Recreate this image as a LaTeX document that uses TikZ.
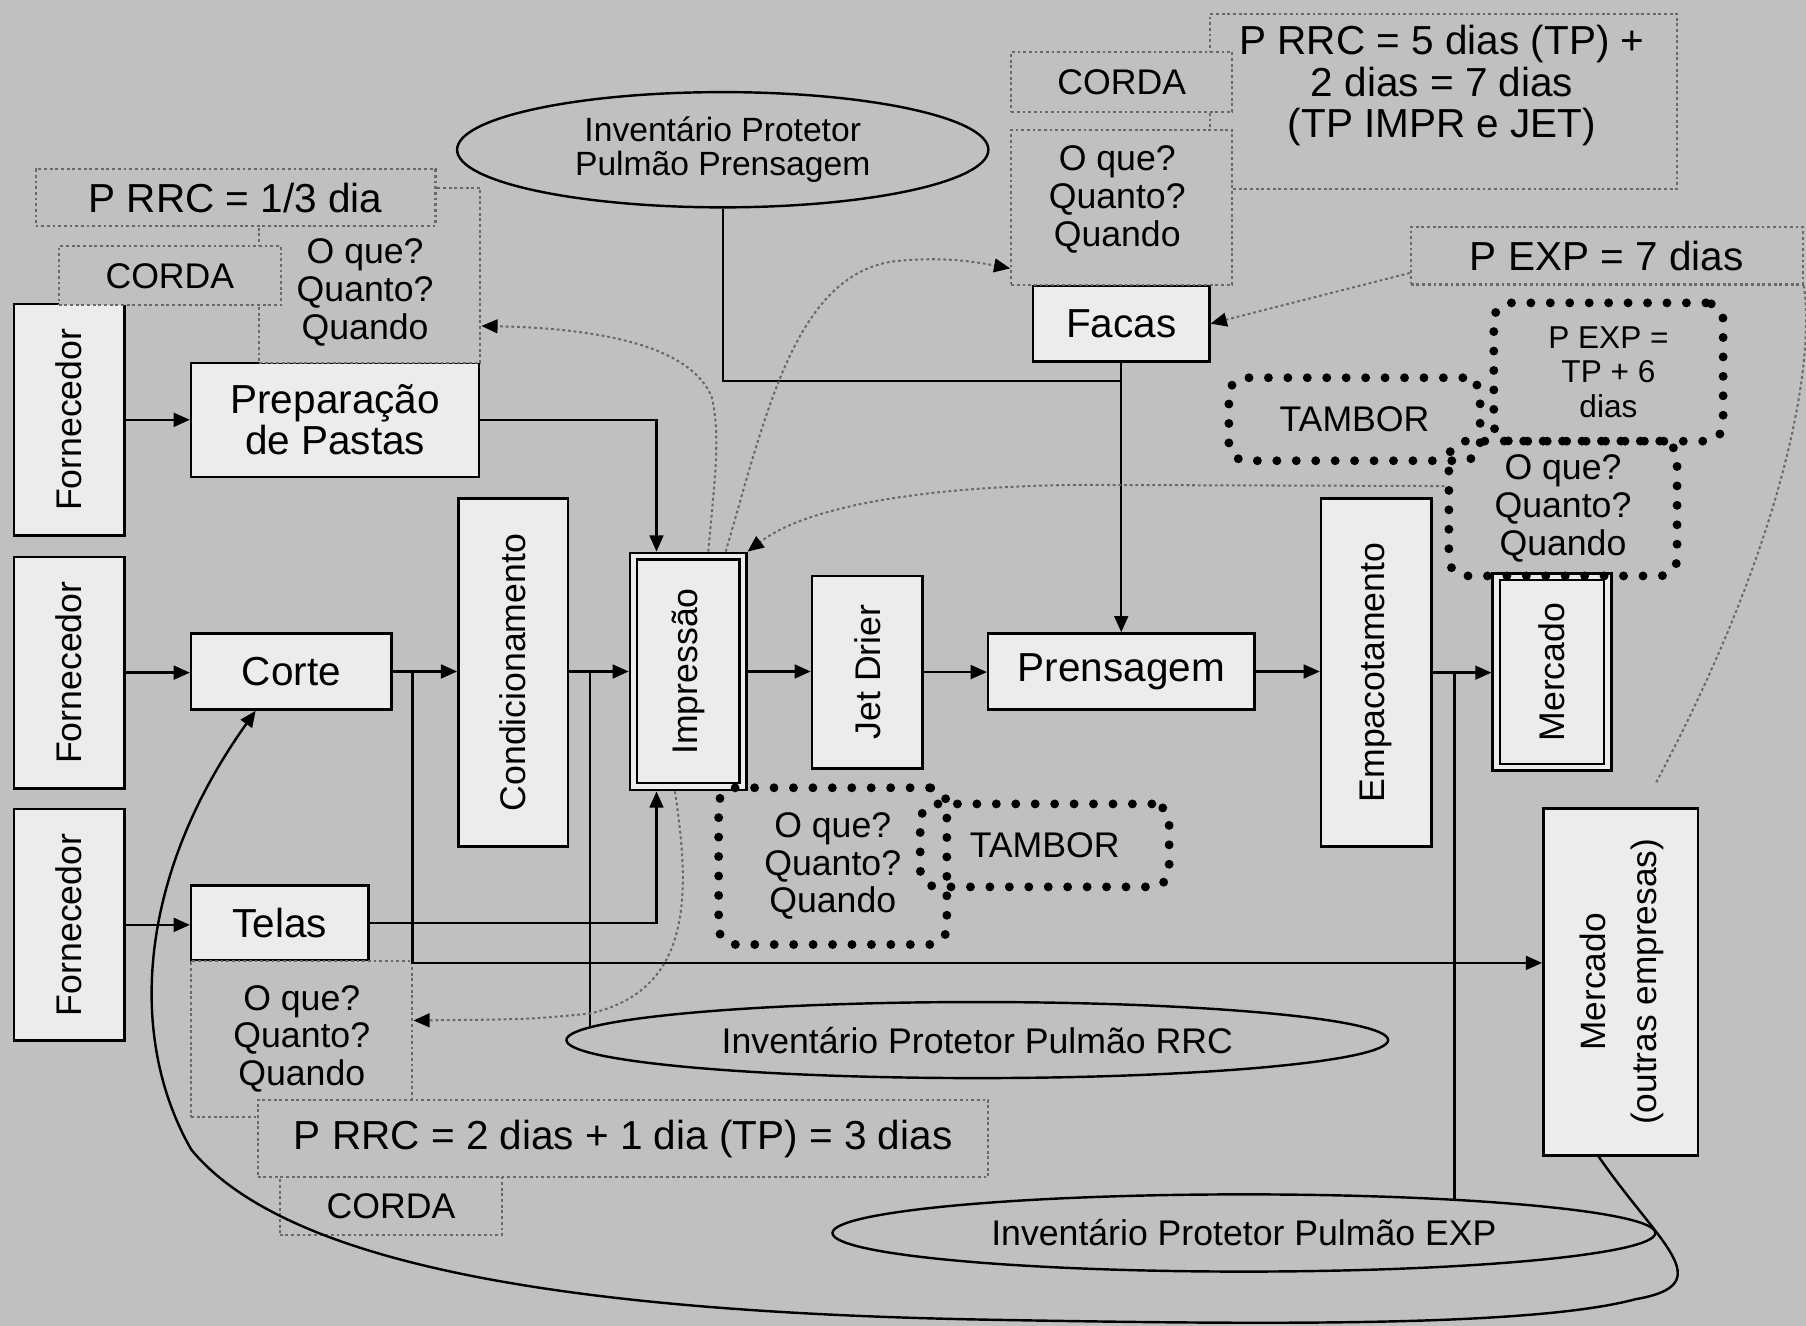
\documentclass[tikz,border=0pt]{standalone}
\usepackage{fontspec}
\setmainfont{Liberation Sans}
\usetikzlibrary{shapes.geometric,arrows.meta}
\definecolor{bggray}{RGB}{192,192,192}
\definecolor{boxfill}{RGB}{236,236,236}
\definecolor{dotgray}{RGB}{105,105,105}
\newcommand\fntbox{\fontsize{10}{10.2}\selectfont}
\newcommand\fntvert{\fontsize{8.8}{10}\selectfont}
\newcommand\fntnote{\fontsize{8.8}{9.3}\selectfont}
\newcommand\fntbuf{\fontsize{8.3}{8.3}\selectfont}
\newcommand\fntpexp{\fontsize{7.8}{8.5}\selectfont}
\newcommand\fntmout{\fontsize{8.7}{12.8}\selectfont}
\begin{document}
\begin{tikzpicture}[x=0.01cm, y=-0.01cm,
    >={Triangle[length=4pt,width=3.4pt]},
    box/.style={draw, line width=0.6pt, fill=boxfill, inner sep=0pt, align=center, font=\fntbox},
    vbox/.style={box, font=\fntvert},
    note/.style={draw=dotgray, line width=0.5pt, dash pattern=on 0.7pt off 0.7pt, fill=bggray, inner sep=0pt, align=center, font=\fntnote},
    drum/.style={draw, line width=2.2pt, dash pattern=on 0pt off 4.8pt, line cap=round, rounded corners=0.15cm, inner sep=0pt, align=center, font=\fntnote},
    buffer/.style={ellipse, draw, line width=0.6pt, inner sep=0pt, align=center, font=\fntnote},
    link/.style={line width=0.6pt},
    hint/.style={draw=dotgray, line width=0.5pt, dash pattern=on 0.7pt off 0.7pt, -{Triangle[length=4pt,width=3.4pt,color=black]}}]
    \fill[bggray] (0,0) rectangle (1568,1151);
    \useasboundingbox (0,0) rectangle (1568,1151);
    % processos
    \foreach \n/\y in {1/364.5,2/584,3/803} {
        \node[vbox, minimum width=0.96cm, minimum height=2.01cm] (forn\n) at (60,\y) {\rotatebox{90}{Fornecedor}};
    }
    \node[box, minimum width=2.5cm, minimum height=0.99cm] (prep) at (291,364.5) {Preparação\\de Pastas};
    \node[box, minimum width=1.74cm, minimum height=0.66cm] (corte) at (253,583) {Corte};
    \node[box, minimum width=1.54cm, minimum height=0.65cm] (telas) at (243,801.5) {Telas};
    \node[vbox, minimum width=0.95cm, minimum height=3.02cm] (cond) at (445.5,584) {\rotatebox{90}{Condicionamento}};
    \node[box, minimum width=1.01cm, minimum height=2.06cm] (impr) at (597.5,583) {};
    \node[vbox, minimum width=0.89cm, minimum height=1.94cm] (imprin) at (impr) {\rotatebox{90}{Impressão}};
    \node[vbox, minimum width=0.96cm, minimum height=1.67cm] (jet) at (753,583.5) {\rotatebox{90}{Jet Drier}};
    \node[box, minimum width=2.31cm, minimum height=0.66cm] (prens) at (973.5,583) {Prensagem};
    \node[box, minimum width=1.53cm, minimum height=0.66cm] (facas) at (973.5,281) {Facas};
    \node[vbox, minimum width=0.96cm, minimum height=3.02cm] (emp) at (1195,584) {\rotatebox{90}{Empacotamento}};
    \node[box, minimum width=1.03cm, minimum height=1.71cm] (merc) at (1347.5,583.5) {};
    \node[vbox, minimum width=0.9cm, minimum height=1.6cm] (mercin) at (merc) {\rotatebox{90}{Mercado}};
    \node[box, minimum width=1.34cm, minimum height=3.01cm, font=\fntmout] (mout) at (1407,852.5) {\rotatebox{90}{\begin{tabular}{@{}c@{}}Mercado\\(outras empresas)\end{tabular}}};
    % pulmoes
    \node[buffer, minimum width=4.61cm, minimum height=1cm, font=\fntbuf] (ipp) at (627.5,130) {Inventário Protetor\\Pulmão Prensagem};
    \node[buffer, minimum width=7.13cm, minimum height=0.66cm] (irrc) at (848.5,903) {Inventário Protetor Pulmão RRC};
    \node[buffer, minimum width=7.14cm, minimum height=0.67cm] (iexp) at (1080,1070.5) {Inventário Protetor Pulmão EXP};
    % notas
    \node[note, minimum width=1.92cm, minimum height=1.52cm] (q1) at (321,239) {};
    \node[font=\fntnote, align=center] (q1t) at (317,254) {O que?\\Quanto?\\Quando};
    \node[note, minimum width=3.47cm, minimum height=0.49cm, font=\fntbox] (n1) at (204.5,171.5) {P RRC = 1/3 dia};
    \node[note, minimum width=1.93cm, minimum height=0.51cm] (c1) at (147.5,239.5) {CORDA};
    \node[note, minimum width=4.05cm, minimum height=1.52cm] (n2) at (1253.5,88) {};
    \node[font=\fntbox, align=center] (n2t) at (1252,74.5) {P RRC = 5 dias (TP) +\\2 dias = 7 dias\\(TP IMPR e JET)};
    \node[note, minimum width=1.92cm, minimum height=1.34cm] (q2) at (974,180) {};
    \node[font=\fntnote, align=center] (q2t) at (970,173) {O que?\\Quanto?\\Quando};
    \node[note, minimum width=1.92cm, minimum height=0.52cm] (c2) at (974,71) {CORDA};
    \node[note, minimum width=3.4cm, minimum height=0.5cm, font=\fntbox] (pexp) at (1395,222) {P EXP = 7 dias};
    \node[note, minimum width=1.92cm, minimum height=1.36cm] (q5) at (262,902) {O que?\\Quanto?\\Quando};
    \node[note, minimum width=6.34cm, minimum height=0.67cm, font=\fntbox] (n3) at (541,988.5) {P RRC = 2 dias + 1 dia (TP) = 3 dias};
    \node[note, minimum width=1.93cm, minimum height=0.5cm] (c3) at (339.5,1047) {CORDA};
    % tambores
    \node[drum, minimum width=2.18cm, minimum height=0.72cm] (tam1) at (1176,364) {TAMBOR};
    \node[drum, minimum width=1.99cm, minimum height=1.2cm, font=\fntpexp] (pe6) at (1396.5,323) {P EXP =\\TP + 6\\dias};
    \node[drum, minimum width=1.98cm, minimum height=1.17cm] (q3) at (1357,441.5) {O que?\\Quanto?\\Quando};
    \node[drum, minimum width=1.98cm, minimum height=1.36cm] (q4) at (723,752) {O que?\\Quanto?\\Quando};
    \node[drum, minimum width=2.16cm, minimum height=0.72cm] (tam2) at (907,734) {TAMBOR};
    % fluxo
    \coordinate (j1) at (358,583);
    \coordinate (j2) at (512,583);
    \coordinate (j3) at (973.5,331);
    \coordinate (j4) at (1263,583);
    \coordinate (tail) at (1437,681);
    \draw[link,->] (forn1.east) -- (prep.west);
    \draw[link,->] (forn2.east) -- (forn2.east -| corte.west);
    \draw[link,->] (forn3.east) -- (forn3.east -| telas.west);
    \draw[link,->] (corte.east) -- (corte.east -| cond.west);
    \draw[link,->] (j1) |- ([yshift=0.165cm]mout.west);
    \draw[link,->] (impr.west -| cond.east) -- (impr.west);
    \draw[link] (j2) -- (j2 |- irrc.178);
    \draw[link,->] (prep.east) -| ([xshift=-0.275cm]impr.north);
    \draw[link,->] (telas.east) -| ([xshift=-0.275cm]impr.south);
    \draw[link,->] (impr.east) -- (impr.east -| jet.west);
    \draw[link,->] (jet.east) -- (jet.east -| prens.west);
    \draw[link] (ipp.south) |- (j3);
    \draw[link,->] (facas.south) -- (prens.north);
    \draw[link,->] (prens.east) -- (prens.east -| emp.west);
    \draw[link,->] (emp.east) -- (emp.east -| merc.west);
    \draw[link] (j4) -- (j4 |- iexp.9);
    \draw[link,->] ([xshift=-0.19cm]mout.south) .. controls (1440,1080) and (1495,1115) .. (1420,1128)
        .. controls (1330,1152) and (1100,1150) .. (870,1146)
        .. controls (500,1140) and (250,1100) .. (166,998)
        .. controls (110,900) and (120,760) .. ([xshift=-0.31cm]corte.south);
    % sinais
    \draw[hint] ([xshift=0.175cm]impr.north) .. controls (620,420) and (626,380) .. (618,345)
        .. controls (600,300) and (520,285) .. ([yshift=-0.44cm]q1.east);
    \draw[hint] ([xshift=0.325cm]impr.north) .. controls (665,360) and (690,240) .. (775,227)
        .. controls (820,222) and (850,228) .. ([yshift=-0.53cm]q2.west);
    \draw[hint] ([yshift=0.195cm]q3.west) -- (940,421) .. controls (800,422) and (700,440) .. (impr.north east);
    \draw[hint] ([xshift=-0.115cm]impr.south) .. controls (600,780) and (600,860) .. (512,880)
        .. controls (460,885) .. ([yshift=0.16cm]q5.east);
    \draw[hint] ([yshift=-0.15cm]pexp.west) -- (facas.east);
    \draw[draw=dotgray, line width=0.5pt, dash pattern=on 0.7pt off 0.7pt] (pexp.south east) .. controls (1575,300) and (1560,450) .. (tail);
\end{tikzpicture}
\end{document}
